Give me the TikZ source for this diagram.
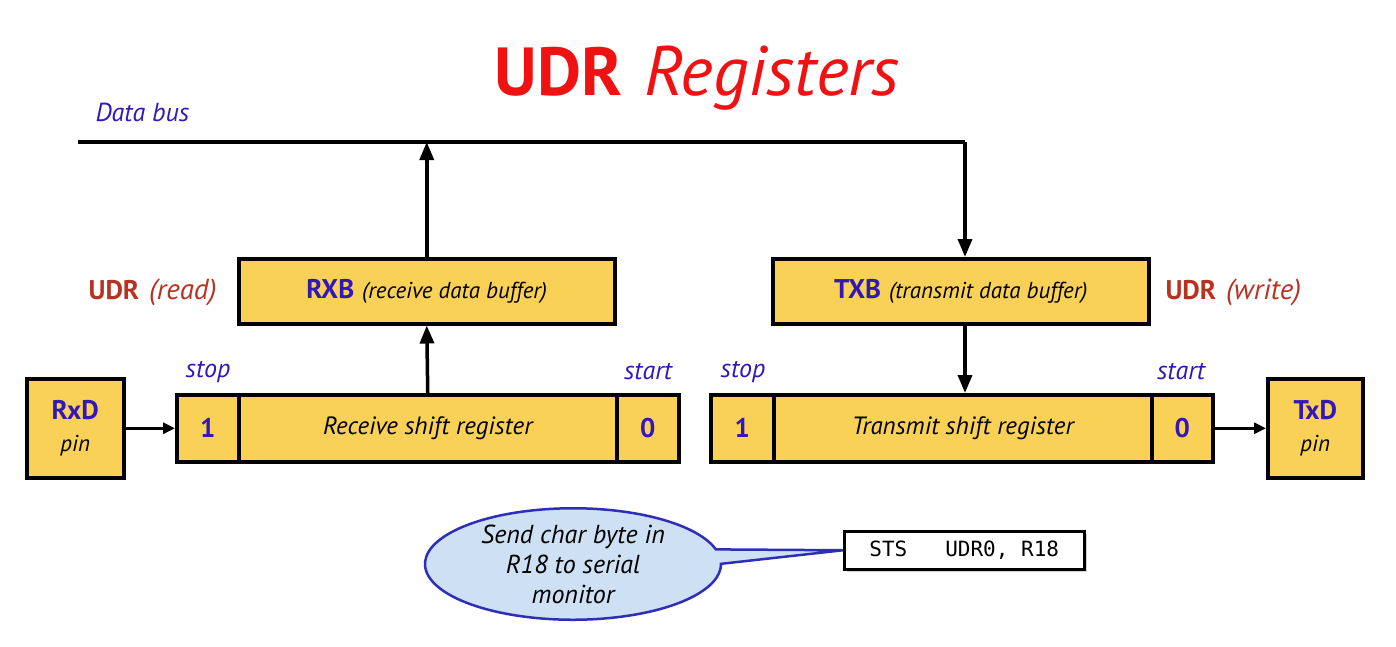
\documentclass[tikz,border=0pt]{standalone}
\usepackage{fontspec}
\setmainfont{PT Sans}
\newfontfamily\condb{PT Sans}
\newfontfamily\hand{PT Sans}
\newfontfamily\codef{DejaVu Sans Mono}
\usetikzlibrary{arrows.meta,shapes.callouts,shadows,positioning}
\definecolor{yel}{HTML}{FAD157}
\definecolor{bluet}{HTML}{3218B8}
\definecolor{dred}{HTML}{B83222}
\definecolor{tred}{HTML}{F01212}
\definecolor{ellfill}{HTML}{CDE0F4}
\definecolor{ellline}{HTML}{2E2EB8}
\newcommand{\bfl}[1]{{\condb\bfseries\fontsize{27}{29}\selectfont #1}}
\newcommand{\hwt}[1]{{\hand\itshape\fontsize{23}{25}\selectfont #1}}
\newcommand{\hwr}[1]{{\hand\itshape\fontsize{29}{31}\selectfont #1}}
\tikzset{
  ybox/.style={draw=black, line width=3.5pt, fill=yel, inner sep=0pt, anchor=north west},
  arr/.style={line width=3.5pt, -{Triangle[length=18pt,width=14pt]}},
  sarr/.style={line width=3pt, -{Triangle[length=12pt,width=11pt]}},
  bl/.style={text=bluet, font=\condb\bfseries\fontsize{27}{29}\selectfont},
  hw/.style={font=\hand\itshape\fontsize{25}{27}\selectfont},
  lab/.style={text=bluet, font=\hand\itshape\fontsize{26}{28}\selectfont},
}
\begin{document}
\begin{tikzpicture}[x=1pt,y=-1pt]
\useasboundingbox[fill=white] (0,0) rectangle (1396,646);
% title
\node (title) at (697,78) {\textcolor{tred}{\condb\bfseries\fontsize{68}{70}\selectfont UDR}\hspace{22pt}\textcolor{tred}{\hand\itshape\fontsize{70}{72}\selectfont Registers}};
\node[lab, anchor=west] (dbus) at (92,112) {Data bus};
% buffers
\node[ybox, minimum width=376pt, minimum height=65pt] (rxb) at (237,257) {\textcolor{bluet}{\bfl{RXB}}\hspace{8pt}\hwt{(receive data buffer)}};
\node[ybox, minimum width=376pt, minimum height=65pt] (txb) at (771,257) {\textcolor{bluet}{\bfl{TXB}}\hspace{8pt}\hwt{(transmit data buffer)}};
\node[anchor=east] (udrr) at (220,292) {\textcolor{dred}{\bfl{UDR}}\hspace{10pt}\textcolor{dred}{\hwr{(read)}}};
\node[anchor=west] (udrw) at (1162,292) {\textcolor{dred}{\bfl{UDR}}\hspace{10pt}\textcolor{dred}{\hwr{(write)}}};
% receive shift register
\node[ybox, minimum width=62pt, minimum height=67pt, bl] (r1) at (175,393) {1};
\node[ybox, minimum width=378pt, minimum height=67pt, hw] (rs) at (237,393) {Receive shift register};
\node[ybox, minimum width=62pt, minimum height=67pt, bl] (r0) at (615,393) {0};
\node[lab] (rstop) at (208,372) {stop};
\node[lab] (rstart) at (648,372) {start};
% transmit shift register
\node[ybox, minimum width=63pt, minimum height=67pt, bl] (t1) at (709,393) {1};
\node[ybox, minimum width=378pt, minimum height=67pt, hw] (ts) at (772,393) {Transmit shift register};
\node[ybox, minimum width=61pt, minimum height=67pt, bl] (t0) at (1150,393) {0};
\node[lab] (tstop) at (743,372) {stop};
\node[lab] (tstart) at (1181,372) {start};
% pins
\node[ybox, minimum width=97pt, minimum height=99pt, align=center] (rxd) at (25,377) {\textcolor{bluet}{\bfl{RxD}}\\[15pt]\hwt{pin}};
\node[ybox, minimum width=95pt, minimum height=99pt, align=center] (txd) at (1266,377) {\textcolor{bluet}{\bfl{TxD}}\\[15pt]\hwt{pin}};
% bus and arrows
\coordinate (busL) at (78,142);
\coordinate (busR) at (965,142);
\draw[line width=3.5pt] (busL) -- (busR);
\draw[arr] (busR) -- (busR |- txb.north);
\draw[arr] (rxb.north) -- (rxb.north |- busL);
\draw[arr] (rs.north) -- (rxb.south);
\draw[arr] (txb.south -| busR) -- (ts.north -| busR);
\draw[sarr] (rxd.east |- r1.west) -- (r1.west);
\draw[sarr] (t0.east) -- (t0.east -| txd.west);
% code box and callout
\node[draw=black, line width=2.5pt, fill=white, drop shadow={shadow xshift=3pt,shadow yshift=-3pt,opacity=0.35}, minimum width=240pt, minimum height=38pt, anchor=north west, font=\codef\fontsize{21}{23}\selectfont] (code) at (843,530) {STS\ \ \ UDR0, R18};
\node[ellipse callout, draw=ellline, line width=2.5pt, fill=ellfill, minimum width=296pt, minimum height=108pt, callout absolute pointer={(code.west)}, align=center, font=\hand\itshape\fontsize{26}{30}\selectfont, inner sep=0pt] (ell) at (573,564) {Send char byte in\\R18 to serial\\monitor};
\end{tikzpicture}
\end{document}
